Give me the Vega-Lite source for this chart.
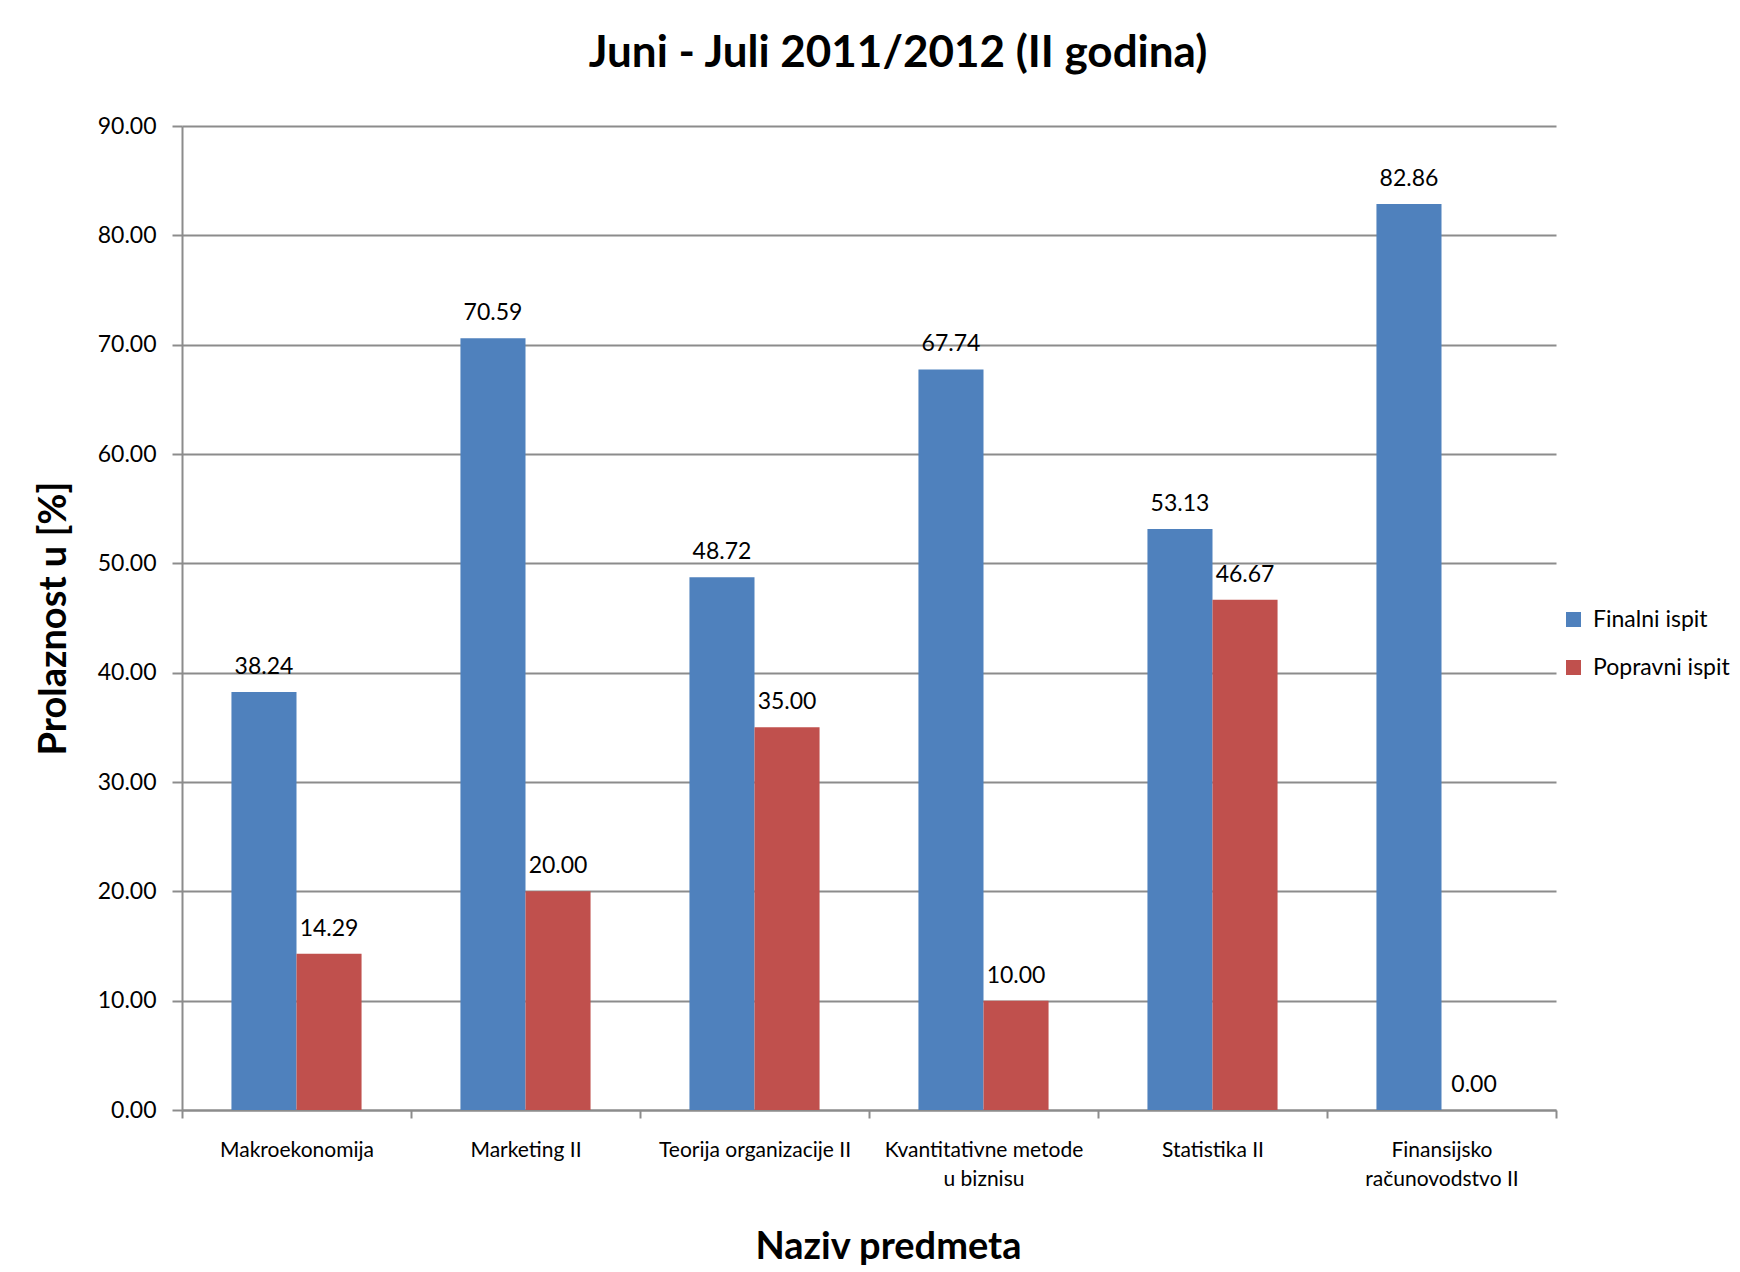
{
  "$schema": "https://vega.github.io/schema/vega-lite/v6.json",
  "autosize": "none",
  "padding": {"left": 182, "top": 126, "right": 184, "bottom": 162},
  "width": 1374,
  "height": 984,
  "background": "white",
  "title": {
    "text": "Juni - Juli 2011/2012 (II godina)",
    "fontSize": 44,
    "fontWeight": "bold",
    "font": "Lato",
    "color": "black",
    "anchor": "middle",
    "dx": 29,
    "offset": 39
  },
  "data": {
    "values": [
      {"predmet": "Makroekonomija", "ispit": "Finalni ispit", "prolaznost": 38.24},
      {"predmet": "Makroekonomija", "ispit": "Popravni ispit", "prolaznost": 14.29},
      {"predmet": "Marketing II", "ispit": "Finalni ispit", "prolaznost": 70.59},
      {"predmet": "Marketing II", "ispit": "Popravni ispit", "prolaznost": 20.0},
      {"predmet": "Teorija organizacije II", "ispit": "Finalni ispit", "prolaznost": 48.72},
      {"predmet": "Teorija organizacije II", "ispit": "Popravni ispit", "prolaznost": 35.0},
      {"predmet": "Kvantitativne metode u biznisu", "ispit": "Finalni ispit", "prolaznost": 67.74},
      {"predmet": "Kvantitativne metode u biznisu", "ispit": "Popravni ispit", "prolaznost": 10.0},
      {"predmet": "Statistika II", "ispit": "Finalni ispit", "prolaznost": 53.13},
      {"predmet": "Statistika II", "ispit": "Popravni ispit", "prolaznost": 46.67},
      {"predmet": "Finansijsko računovodstvo II", "ispit": "Finalni ispit", "prolaznost": 82.86},
      {"predmet": "Finansijsko računovodstvo II", "ispit": "Popravni ispit", "prolaznost": 0.0}
    ]
  },
  "encoding": {
    "x": {
      "field": "predmet",
      "type": "nominal",
      "sort": null,
      "scale": {"paddingInner": 0, "paddingOuter": 0},
      "axis": {
        "title": "Naziv predmeta",
        "titleFontSize": 38,
        "titleFontWeight": "bold",
        "titleFont": "Lato",
        "titleColor": "black",
        "titleAnchor": "start",
        "titleAlign": "center",
        "titleX": 706,
        "titleY": 118,
        "titleBaseline": "top",
        "labelAngle": 0,
        "labelFontSize": 21,
        "labelFont": "Lato",
        "labelColor": "black",
        "labelPadding": 21,
        "labelBaseline": "top",
        "labelLineHeight": 29,
        "labelExpr": "datum.label == 'Kvantitativne metode u biznisu' ? ['Kvantitativne metode', 'u biznisu'] : datum.label == 'Finansijsko računovodstvo II' ? ['Finansijsko', 'računovodstvo II'] : datum.label",
        "tickBand": "extent",
        "tickSize": 8,
        "tickColor": "#8c8c8c",
        "tickWidth": 2,
        "domainColor": "#8c8c8c",
        "domainWidth": 2,
        "labelLimit": 400
      }
    },
    "y": {
      "field": "prolaznost",
      "type": "quantitative",
      "scale": {"domain": [0, 90], "nice": false},
      "axis": {
        "title": "Prolaznost u [%]",
        "titleFontSize": 38,
        "titleFontWeight": "bold",
        "titleFont": "Lato",
        "titleColor": "black",
        "titlePadding": 24,
        "values": [0, 10, 20, 30, 40, 50, 60, 70, 80, 90],
        "format": ".2f",
        "labelFontSize": 23,
        "labelFont": "Lato",
        "labelColor": "black",
        "labelPadding": 16,
        "tickSize": 10,
        "tickColor": "#8c8c8c",
        "tickWidth": 2,
        "domainColor": "#8c8c8c",
        "domainWidth": 2,
        "grid": true,
        "gridColor": "#8c8c8c",
        "gridWidth": 2
      }
    },
    "xOffset": {
      "field": "ispit",
      "type": "nominal",
      "sort": ["Finalni ispit", "Popravni ispit"],
      "scale": {"paddingInner": 0, "paddingOuter": 0.76}
    }
  },
  "layer": [
    {
      "mark": {"type": "bar"},
      "encoding": {
        "color": {
          "field": "ispit",
          "type": "nominal",
          "scale": {"domain": ["Finalni ispit", "Popravni ispit"], "range": ["#4F81BD", "#C0504D"]},
          "legend": {
            "title": null,
            "orient": "none",
            "legendX": 1380,
            "legendY": 482,
            "symbolType": "square",
            "symbolSize": 225,
            "symbolStrokeWidth": 0,
            "labelFontSize": 23,
            "labelFont": "Lato",
            "labelColor": "black",
            "labelOffset": 8,
            "rowPadding": 24
          }
        }
      }
    },
    {
      "mark": {"type": "text", "baseline": "bottom", "dy": -13, "fontSize": 23, "font": "Lato", "color": "black"},
      "encoding": {
        "text": {"field": "prolaznost", "type": "quantitative", "format": ".2f"}
      }
    }
  ],
  "config": {
    "font": "Lato",
    "view": {"stroke": null}
  }
}
